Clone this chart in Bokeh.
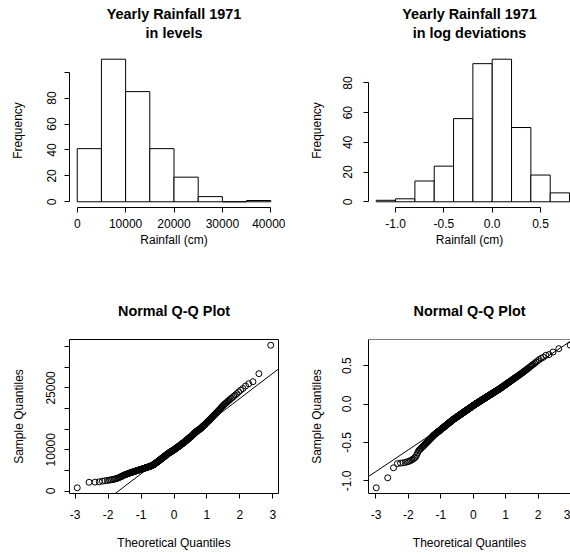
import numpy as np
from statistics import NormalDist
from bokeh.plotting import figure
from bokeh.layouts import gridplot
from bokeh.models import Range1d, FixedTicker, Title, Slope, Span, NumeralTickFormatter
from bokeh.embed import file_html
from bokeh.resources import INLINE

FONT = "Liberation Sans"

# ---------------- data ----------------
levels_titles = ["Yearly Rainfall 1971", "in levels"]
logdev_titles = ["Yearly Rainfall 1971", "in log deviations"]
qq_title = "Normal Q-Q Plot"

levels_bin_edges = [0, 5000, 10000, 15000, 20000, 25000, 30000, 35000, 40000]
levels_counts = [41, 110, 85, 41, 19, 4, 0, 1]

logdev_bin_edges = [-1.2, -1.0, -0.8, -0.6, -0.4, -0.2, 0.0, 0.2, 0.4, 0.6, 0.8]
logdev_counts = [1, 2, 14, 24, 56, 93, 96, 50, 18, 6]

# sorted sample values (order statistics) shown in the Q-Q plots
levels_sorted = [
    780, 2120, 2150, 2230, 2400, 2480, 2560, 2640, 2720, 2800,
    2880, 2960, 3070, 3170, 3280, 3390, 3510, 3620, 3740, 3850,
    3930, 4000, 4080, 4150, 4230, 4280, 4340, 4390, 4450, 4500,
    4550, 4600, 4650, 4700, 4750, 4790, 4830, 4870, 4910, 4950, 4990,
    5030, 5070, 5100, 5140, 5180, 5210, 5240, 5280, 5310,
    5350, 5380, 5420, 5450, 5480, 5520, 5550, 5590, 5620, 5650,
    5680, 5720, 5750, 5780, 5810, 5840, 5870, 5910, 5940, 5970,
    6000, 6030, 6060, 6100, 6130, 6160, 6200, 6250, 6300, 6340,
    6400, 6450, 6510, 6560, 6620, 6670, 6730, 6780, 6840, 6890,
    6950, 7000, 7070, 7120, 7180, 7230, 7290, 7350, 7410, 7460,
    7520, 7580, 7630, 7690, 7750, 7810, 7860, 7920, 7970, 8030,
    8080, 8140, 8190, 8250, 8300, 8350, 8400, 8460, 8510, 8570,
    8620, 8680, 8720, 8780, 8830, 8890, 8940, 8990, 9050, 9100,
    9140, 9190, 9230, 9270, 9320, 9360, 9400, 9440, 9490, 9530,
    9570, 9610, 9660, 9700, 9740, 9780, 9820, 9860, 9910, 9950, 9990,
    10040, 10090, 10140, 10190, 10240, 10290, 10340, 10390, 10440,
    10490, 10540, 10580, 10630, 10680, 10730, 10780, 10820, 10870, 10920,
    10970, 11020, 11070, 11120, 11180, 11230, 11280, 11330, 11380, 11430,
    11480, 11540, 11590, 11650, 11700, 11750, 11810, 11860, 11920, 11970,
    12030, 12080, 12140, 12190, 12250, 12320, 12380, 12450, 12500, 12570,
    12640, 12700, 12770, 12830, 12900, 12950, 13020, 13080, 13150, 13210,
    13280, 13350, 13420, 13490, 13560, 13630, 13700, 13780, 13840, 13910,
    13990, 14070, 14150, 14230, 14310, 14380, 14440, 14500, 14560, 14620,
    14680, 14730, 14790, 14850, 14910, 14970,
    15040, 15130, 15210, 15300,
    15390, 15480, 15570, 15660, 15750, 15840, 15930, 16020, 16110, 16200,
    16310, 16420, 16530, 16640, 16750, 16860, 16970, 17080, 17190, 17300,
    17440, 17570, 17710, 17840, 17980, 18110, 18250, 18380, 18520, 18650,
    18820, 18990, 19160, 19340, 19510, 19680, 19850,
    20070, 20280, 20500, 20700, 20900, 21100, 21300, 21500,
    21730, 21960, 22190, 22420, 22650, 22970, 23280, 23600,
    24020, 24430, 24850, 25450, 26000, 26500, 28450, 35350,
]

logdev_sorted = [
    -1.090, -0.960, -0.830, -0.775, -0.770, -0.765, -0.760, -0.752, -0.745, -0.737,
    -0.726, -0.715, -0.703, -0.690, -0.664, -0.637, -0.610,
    -0.598, -0.586, -0.574, -0.564, -0.554, -0.545, -0.535, -0.525,
    -0.516, -0.508, -0.499, -0.491, -0.482, -0.474, -0.467, -0.459, -0.452, -0.444,
    -0.437, -0.431, -0.424, -0.417, -0.411, -0.404,
    -0.399, -0.395, -0.390, -0.386, -0.381, -0.377, -0.372, -0.368, -0.363,
    -0.359, -0.355, -0.351, -0.347, -0.343, -0.339, -0.335, -0.331, -0.327, -0.323,
    -0.319, -0.315, -0.312, -0.308, -0.305, -0.301, -0.297, -0.294, -0.290, -0.287,
    -0.283, -0.280, -0.277, -0.273, -0.270, -0.267, -0.263, -0.260, -0.257, -0.253,
    -0.250, -0.247, -0.244, -0.241, -0.238, -0.235, -0.232, -0.229, -0.226, -0.223,
    -0.220, -0.217, -0.214, -0.211, -0.208, -0.205, -0.202,
    -0.199, -0.197, -0.195,
    -0.192, -0.190, -0.188, -0.185, -0.183, -0.181, -0.178, -0.176, -0.174, -0.171,
    -0.169, -0.167, -0.164, -0.162, -0.160, -0.157, -0.155, -0.153, -0.151, -0.148,
    -0.146, -0.144, -0.142, -0.139, -0.137, -0.135, -0.133, -0.131, -0.129, -0.126,
    -0.124, -0.122, -0.120, -0.118, -0.116, -0.113, -0.111, -0.109, -0.107, -0.105,
    -0.103, -0.100, -0.098, -0.096, -0.094, -0.092, -0.090, -0.088, -0.086, -0.084,
    -0.082, -0.080, -0.078, -0.076, -0.074, -0.071, -0.069, -0.067, -0.065, -0.063,
    -0.061, -0.059, -0.057, -0.055, -0.053, -0.051, -0.049, -0.047, -0.045, -0.043,
    -0.041, -0.039, -0.037, -0.035, -0.033, -0.031, -0.028, -0.026, -0.024, -0.022,
    -0.020, -0.018, -0.016, -0.014, -0.012, -0.010, -0.008, -0.006, -0.004, -0.002,
    0.001, 0.002, 0.004, 0.006, 0.008, 0.009, 0.011, 0.013, 0.015, 0.017,
    0.019, 0.020, 0.022, 0.024, 0.026, 0.028, 0.030, 0.032, 0.034, 0.036,
    0.038, 0.039, 0.041, 0.043, 0.045, 0.047, 0.049, 0.051, 0.053, 0.055,
    0.057, 0.059, 0.061, 0.063, 0.065, 0.066, 0.068, 0.070, 0.072, 0.074,
    0.076, 0.078, 0.080, 0.082, 0.084, 0.086, 0.088, 0.090, 0.092, 0.094,
    0.096, 0.098, 0.101, 0.103, 0.105, 0.107, 0.109, 0.111, 0.113, 0.115,
    0.118, 0.120, 0.122, 0.124, 0.126, 0.128, 0.130, 0.132, 0.134, 0.137,
    0.139, 0.141, 0.143, 0.146, 0.148, 0.150, 0.153, 0.155, 0.157, 0.160,
    0.162, 0.164, 0.167, 0.169, 0.171, 0.174, 0.176, 0.178, 0.181, 0.183,
    0.185, 0.188, 0.190, 0.193, 0.195, 0.198,
    0.201, 0.204, 0.207, 0.210, 0.213, 0.216, 0.219, 0.223, 0.226, 0.229,
    0.232, 0.235, 0.238, 0.241,
    0.245, 0.248, 0.252, 0.255, 0.259, 0.262, 0.266, 0.269, 0.273, 0.276,
    0.280, 0.284, 0.288, 0.292, 0.296, 0.300, 0.304, 0.308, 0.312, 0.316,
    0.321, 0.325, 0.330, 0.335, 0.340, 0.344, 0.349, 0.354, 0.359, 0.364,
    0.369, 0.375, 0.381, 0.387, 0.392, 0.398,
    0.405, 0.413, 0.420, 0.427, 0.436, 0.444, 0.453, 0.462, 0.471,
    0.482, 0.494, 0.505, 0.517, 0.528, 0.545, 0.561, 0.578, 0.594,
    0.608, 0.634, 0.643, 0.676, 0.720, 0.765,
]

levels_x_ticks = [0, 10000, 20000, 30000, 40000]
levels_y_ticks = [0, 20, 40, 60, 80, 100]
levels_y_labels = ["0", "20", "40", "60", "80", ""]
logdev_x_ticks = [-1.0, -0.5, 0.0, 0.5]
logdev_y_ticks = [0, 20, 40, 60, 80]
qq_x_ticks = [-3, -2, -1, 0, 1, 2, 3]
qq_levels_y_ticks = [0, 5000, 10000, 15000, 20000, 25000, 30000, 35000]
qq_levels_y_labels = ["0", "", "10000", "", "", "25000", "", ""]
qq_logdev_y_ticks = [-1.0, -0.5, 0.0, 0.5]


# ---------------- helpers ----------------
def r_range(lo, hi):
    d = 0.04 * (hi - lo)
    return lo - d, hi + d


def theoretical_quantiles(n):
    a = 0.375 if n <= 10 else 0.5
    nd = NormalDist()
    return [nd.inv_cdf((i + 1 - a) / (n + 1 - 2 * a)) for i in range(n)]


def qqline(sample):
    y1, y2 = np.percentile(sample, [25, 75])
    nd = NormalDist()
    x1, x2 = nd.inv_cdf(0.25), nd.inv_cdf(0.75)
    slope = (y2 - y1) / (x2 - x1)
    return slope, y1 - slope * x1


def make_fig(xr, yr, left, right, top, bottom):
    p = figure(width=285, height=278, x_range=Range1d(*xr), y_range=Range1d(*yr),
               toolbar_location=None, output_backend="svg", title=None,
               min_border_left=left, min_border_right=right,
               min_border_top=top, min_border_bottom=bottom,
               background_fill_color="white", border_fill_color="white")
    p.grid.visible = False
    p.outline_line_color = None
    return p


def style_axis(ax, ticks, label, standoff, label_standoff, labels=None, fmt="0", bounds=None):
    ax.ticker = FixedTicker(ticks=ticks)
    ax.formatter = NumeralTickFormatter(format=fmt)
    if labels is not None:
        ax.major_label_overrides = {t: l for t, l in zip(ticks, labels)}
    if bounds is not None:
        ax.bounds = bounds
    ax.axis_label = label
    ax.axis_label_text_font = FONT
    ax.axis_label_text_font_size = "12px"
    ax.axis_label_text_font_style = "normal"
    ax.axis_label_text_color = "black"
    ax.axis_label_standoff = label_standoff
    ax.major_label_text_font = FONT
    ax.major_label_text_font_size = "12px"
    ax.major_label_text_color = "black"
    ax.major_label_standoff = standoff
    ax.major_tick_out = 5
    ax.major_tick_in = 0
    ax.minor_tick_line_color = None
    ax.axis_line_color = "black"
    ax.major_tick_line_color = "black"


def title_obj(text, standoff):
    return Title(text=text, align="center", text_font=FONT, text_font_size="14.4px",
                 text_font_style="bold", text_color="black", standoff=standoff)


def add_two_line_title(p, lines, spacer_standoff):
    # invisible spacer between the frame and the title block
    p.add_layout(Title(text=" ", text_font_size="1px", standoff=spacer_standoff), "above")
    p.add_layout(title_obj(lines[1], 0), "above")
    p.add_layout(title_obj(lines[0], 2), "above")


# ---------------- top-left: histogram in levels ----------------
p1 = make_fig(r_range(levels_bin_edges[0], levels_bin_edges[-1]),
              r_range(0, max(levels_counts)), 69, 6, 53, 71)
p1.quad(left=levels_bin_edges[:-1], right=levels_bin_edges[1:], bottom=0,
        top=levels_counts, fill_color="white", line_color="black", line_width=1)
style_axis(p1.xaxis[0], levels_x_ticks, "Rainfall (cm)", 6, 2,
           bounds=(levels_x_ticks[0], levels_x_ticks[-1]))
style_axis(p1.yaxis[0], levels_y_ticks, "Frequency", 8, 20, labels=levels_y_labels,
           bounds=(levels_y_ticks[0], levels_y_ticks[-1]))
p1.yaxis.major_label_orientation = "vertical"
add_two_line_title(p1, levels_titles, 9.5)

# ---------------- top-right: histogram in log deviations ----------------
p2 = make_fig((r_range(logdev_bin_edges[0], logdev_bin_edges[-1])[0], 0.81),
              r_range(0, max(logdev_counts)), 82, 0, 53, 71)
p2.quad(left=logdev_bin_edges[:-1], right=logdev_bin_edges[1:], bottom=0,
        top=logdev_counts, fill_color="white", line_color="black", line_width=1)
style_axis(p2.xaxis[0], logdev_x_ticks, "Rainfall (cm)", 6, 2, fmt="0.0",
           bounds=(logdev_x_ticks[0], logdev_x_ticks[-1]))
style_axis(p2.yaxis[0], logdev_y_ticks, "Frequency", 11, 17,
           bounds=(logdev_y_ticks[0], logdev_y_ticks[-1]))
p2.yaxis.major_label_orientation = "vertical"
add_two_line_title(p2, logdev_titles, 9.5)

# ---------------- bottom-left: Q-Q plot levels ----------------
tq1 = theoretical_quantiles(len(levels_sorted))
p3 = make_fig(r_range(min(tq1), max(tq1)), r_range(min(levels_sorted), max(levels_sorted)),
              69, 7, 61, 63)
p3.outline_line_color = "black"
p3.scatter(tq1, levels_sorted, marker="circle", size=6, fill_color=None,
           line_color="black", line_width=1)
s1, b1 = qqline(levels_sorted)
p3.add_layout(Slope(gradient=s1, y_intercept=b1, line_color="black", line_width=1))
style_axis(p3.xaxis[0], qq_x_ticks, "Theoretical Quantiles", 11, 14,
           bounds=(qq_x_ticks[0], qq_x_ticks[-1]))
style_axis(p3.yaxis[0], qq_levels_y_ticks, "Sample Quantiles", 9, 18,
           labels=qq_levels_y_labels,
           bounds=(qq_levels_y_ticks[0], qq_levels_y_ticks[-1]))
p3.yaxis.major_label_orientation = "vertical"
p3.add_layout(title_obj(qq_title, 41), "above")

# ---------------- bottom-right: Q-Q plot log deviations ----------------
tq2 = theoretical_quantiles(len(logdev_sorted))
yr4 = r_range(min(logdev_sorted), max(logdev_sorted))
p4 = make_fig((r_range(min(tq2), max(tq2))[0], 3.0), yr4, 83, 0, 61, 63)
p4.scatter(tq2, logdev_sorted, marker="circle", size=6, fill_color=None,
           line_color="black", line_width=1)
s2, b2 = qqline(logdev_sorted)
p4.add_layout(Slope(gradient=s2, y_intercept=b2, line_color="black", line_width=1))
p4.add_layout(Span(location=yr4[1], dimension="width", line_color="black", line_width=1))
style_axis(p4.xaxis[0], qq_x_ticks, "Theoretical Quantiles", 11, 14)
style_axis(p4.yaxis[0], qq_logdev_y_ticks, "Sample Quantiles", 12, 16, fmt="0.0")
p4.yaxis.major_label_orientation = "vertical"
p4.add_layout(title_obj(qq_title, 41), "above")

grid = gridplot([[p1, p2], [p3, p4]], toolbar_location=None)

with open("out.html", "w") as f:
    f.write(file_html(grid, INLINE))
